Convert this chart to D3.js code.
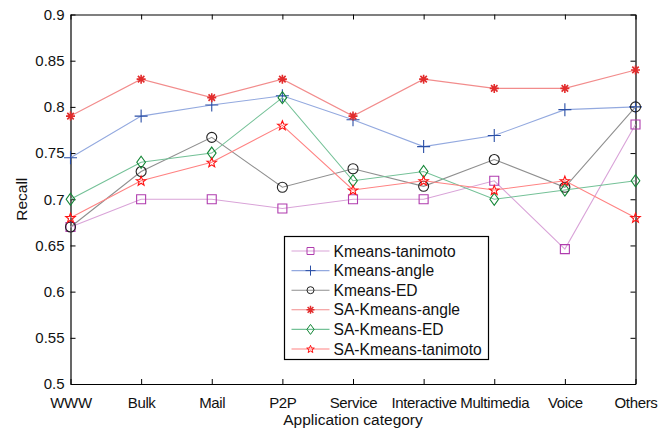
<!DOCTYPE html>
<html>
<head>
<meta charset="utf-8">
<script src="https://cdn.jsdelivr.net/npm/d3@7"></script>
<style>
  html, body { margin: 0; padding: 0; background: #fff; }
  svg { display: block; font-family: "Liberation Sans", Arial, sans-serif; }
</style>
</head>
<body>
<svg id="chart" width="672" height="438"></svg>
<script>
// Application categories on the x axis
const categories = ["WWW", "Bulk", "Mail", "P2P", "Service", "Interactive", "Multimedia", "Voice", "Others"];

// Recall per method
const kmeansTanimoto   = [0.670, 0.700, 0.700, 0.690, 0.700, 0.700, 0.720, 0.646, 0.781];
const kmeansAngle      = [0.745, 0.790, 0.802, 0.812, 0.786, 0.757, 0.769, 0.797, 0.800];
const kmeansED         = [0.670, 0.730, 0.767, 0.713, 0.733, 0.714, 0.743, 0.713, 0.800];
const saKmeansAngle    = [0.790, 0.830, 0.810, 0.830, 0.790, 0.830, 0.820, 0.820, 0.840];
const saKmeansED       = [0.700, 0.740, 0.750, 0.810, 0.720, 0.730, 0.700, 0.710, 0.720];
const saKmeansTanimoto = [0.680, 0.720, 0.740, 0.780, 0.710, 0.720, 0.710, 0.720, 0.680];

const seriesNames = ["Kmeans-tanimoto", "Kmeans-angle", "Kmeans-ED", "SA-Kmeans-angle", "SA-Kmeans-ED", "SA-Kmeans-tanimoto"];
const yTicks = [0.5, 0.55, 0.6, 0.65, 0.7, 0.75, 0.8, 0.85, 0.9];

const seriesData = [kmeansTanimoto, kmeansAngle, kmeansED, saKmeansAngle, saKmeansED, saKmeansTanimoto];
const styles = [
  { marker: "square",   stroke: "#b03cae", line: "#d9a3d8" },
  { marker: "plus",     stroke: "#2a4fa6", line: "#93a9df" },
  { marker: "circle",   stroke: "#222222", line: "#8f8f8f" },
  { marker: "asterisk", stroke: "#e22c2c", line: "#f28c8c" },
  { marker: "diamond",  stroke: "#138636", line: "#74c197" },
  { marker: "star",     stroke: "#ff1010", line: "#ff8282" }
];

const svg = d3.select("#chart");
const W = 672, H = 438;
const margin = { left: 70.5, top: 14.5, right: 36.5, bottom: 54 };
const x0 = margin.left, x1 = W - margin.right;
const y0 = H - margin.bottom, y1 = margin.top;

const x = d3.scalePoint().domain(categories).range([x0, x1]).padding(0);
const y = d3.scaleLinear().domain([0.5, 0.9]).range([y0, y1]);

const fmt = d => d3.format("~g")(d);

// Axes with inward ticks on all four sides
const gLeft = svg.append("g").attr("transform", `translate(${x0},0)`)
  .call(d3.axisLeft(y).tickValues(yTicks).tickFormat(fmt).tickSizeInner(-5).tickSizeOuter(0).tickPadding(6));
const gRight = svg.append("g").attr("transform", `translate(${x1},0)`)
  .call(d3.axisRight(y).tickValues(yTicks).tickFormat("").tickSizeInner(-5).tickSizeOuter(0));
const gBottom = svg.append("g").attr("transform", `translate(0,${y0})`)
  .call(d3.axisBottom(x).tickSizeInner(-5).tickSizeOuter(0).tickPadding(13));
const gTop = svg.append("g").attr("transform", `translate(0,${y1})`)
  .call(d3.axisTop(x).tickFormat("").tickSizeInner(-5).tickSizeOuter(0));

[gLeft, gRight, gBottom, gTop].forEach(g => {
  g.selectAll("path.domain").attr("stroke", "#000").attr("stroke-width", 1.2);
  g.selectAll(".tick line").attr("stroke", "#000");
  g.selectAll(".tick text").attr("fill", "#111").attr("font-size", 15)
    .attr("font-family", "'Liberation Sans', Arial, sans-serif");
});
gBottom.selectAll(".tick text").attr("letter-spacing", "-0.35px");

// Axis titles
svg.append("text")
  .attr("x", (x0 + x1) / 2).attr("y", 424.5)
  .attr("text-anchor", "middle").attr("font-size", 15.5).attr("fill", "#111")
  .text("Application category");
svg.append("text")
  .attr("transform", `translate(27,${(y0 + y1) / 2}) rotate(-90)`)
  .attr("text-anchor", "middle").attr("font-size", 15.5).attr("fill", "#111")
  .text("Recall");

// Marker shapes as path strings centred on (0,0)
function markerPath(type, s) {
  const h = s / 2;
  switch (type) {
    case "square":
      return `M${-h},${-h}H${h}V${h}H${-h}Z`;
    case "plus":
      return `M${-h},0H${h}M0,${-h}V${h}`;
    case "circle":
      return d3.arc()({ innerRadius: 0, outerRadius: h, startAngle: 0, endAngle: 2 * Math.PI });
    case "asterisk": {
      const d = h * 0.72;
      return `M${-h},0H${h}M0,${-h}V${h}M${-d},${-d}L${d},${d}M${-d},${d}L${d},${-d}`;
    }
    case "diamond": {
      const w = h * 0.72;
      return `M0,${-h}L${w},0L0,${h}L${-w},0Z`;
    }
    case "star": {
      const pts = [];
      for (let i = 0; i < 10; i++) {
        const r = i % 2 === 0 ? h : h * 0.42;
        const a = -Math.PI / 2 + i * Math.PI / 5;
        pts.push([r * Math.cos(a), r * Math.sin(a) + h * 0.08]);
      }
      return "M" + pts.map(p => p.join(",")).join("L") + "Z";
    }
  }
}
const markerSize = { square: 9, plus: 13, circle: 10, asterisk: 9, diamond: 12, star: 10 };
const legendMarkerSize = { square: 7, plus: 10, circle: 7, asterisk: 8, diamond: 10, star: 8 };

const line = d3.line().x((d, i) => x(categories[i])).y(d => y(d));

const plot = svg.append("g");
seriesData.forEach((vals, k) => {
  const st = styles[k];
  const g = plot.append("g");
  g.append("path").datum(vals)
    .attr("d", line).attr("fill", "none")
    .attr("stroke", st.line).attr("stroke-width", 1.1);
  g.selectAll("path.mk").data(vals).join("path")
    .attr("class", "mk")
    .attr("transform", (d, i) => `translate(${x(categories[i])},${y(d)})`)
    .attr("d", markerPath(st.marker, markerSize[st.marker]))
    .attr("fill", "none").attr("stroke", st.stroke)
    .attr("stroke-width", st.marker === "asterisk" ? 1.6 : 1.1);
});

// Legend
const lg = svg.append("g").attr("transform", "translate(284.5,236.5)");
lg.append("rect").attr("width", 204).attr("height", 123)
  .attr("fill", "#fff").attr("stroke", "#000").attr("stroke-width", 1.2);
seriesNames.forEach((name, k) => {
  const st = styles[k];
  const cy = 14.5 + k * 19.6;
  const row = lg.append("g").attr("transform", `translate(0,${cy})`);
  row.append("line").attr("x1", 7).attr("x2", 45).attr("y1", 0).attr("y2", 0)
    .attr("stroke", st.line).attr("stroke-width", 1.1);
  row.append("path").attr("transform", "translate(26,0)")
    .attr("d", markerPath(st.marker, legendMarkerSize[st.marker]))
    .attr("fill", "none").attr("stroke", st.stroke)
    .attr("stroke-width", st.marker === "asterisk" ? 1.5 : 1);
  row.append("text").attr("x", 49).attr("y", 0).attr("dy", "0.36em")
    .attr("font-size", 15.6).attr("fill", "#111").text(name);
});
</script>
</body>
</html>
